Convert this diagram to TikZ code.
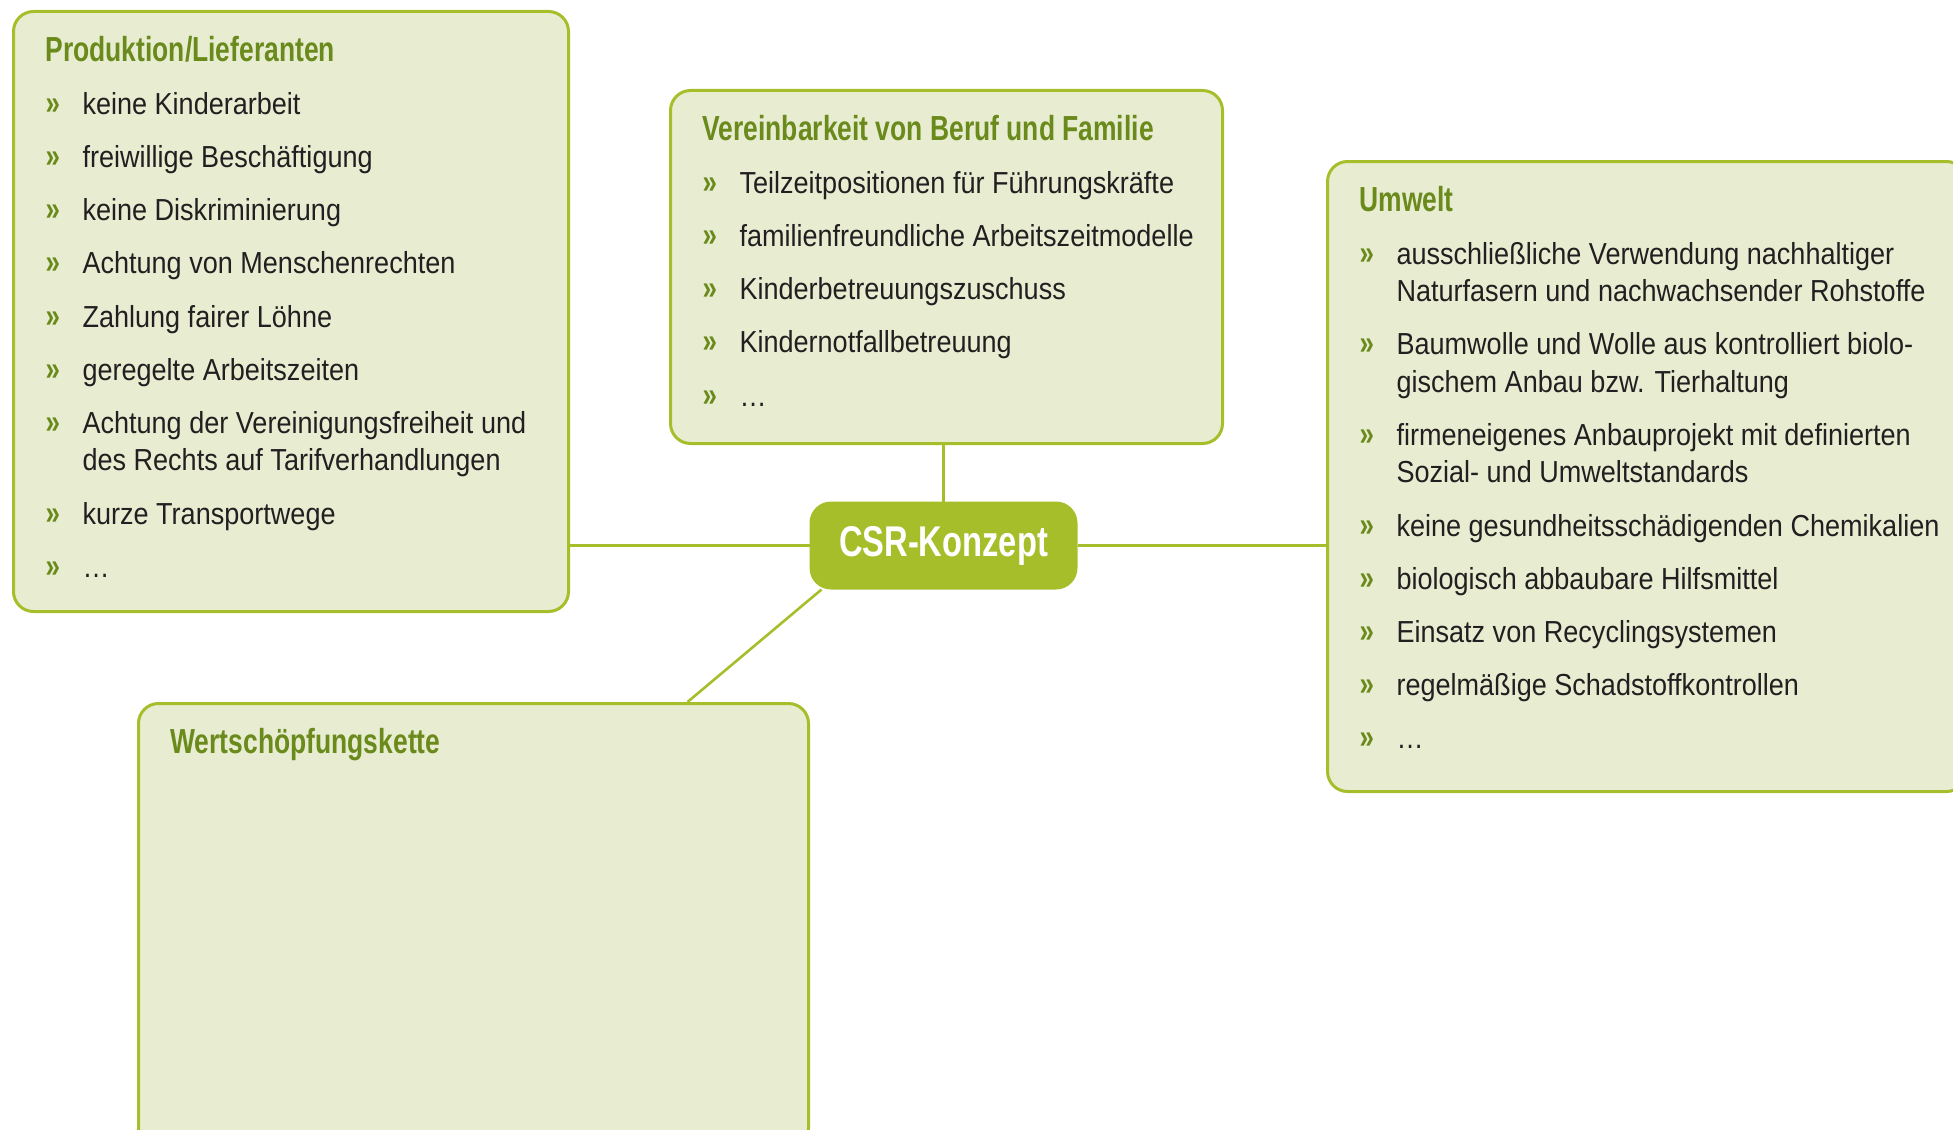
\documentclass[tikz,border=0pt]{standalone}
\usepackage{fontspec}
\setmainfont{Liberation Sans}[FakeStretch=0.89]
\newfontfamily\headfont{Liberation Sans}[FakeStretch=0.76]
\usepackage{xcolor}
\usepackage{tikz}

\definecolor{csrline}{HTML}{A7BE2B}
\definecolor{csrfill}{HTML}{E8EDD2}
\definecolor{csrtitle}{HTML}{6B8A1C}
\definecolor{csrtext}{HTML}{231F20}

% title and list lines inside the boxes
\newcommand\ttl[1]{\noindent\rule{0pt}{24.8pt}{\headfont\bfseries\fontsize{17.4}{20}\selectfont\color{csrtitle}#1}\par}
\newcommand\itm[1]{\vspace{7.9pt}\noindent\makebox[18.5pt][l]{\headfont\bfseries\fontsize{17}{20}\selectfont\color{csrtitle}»}\mbox{#1}\par}
\newcommand\cnt[1]{\noindent\hspace*{18.5pt}\mbox{#1}\par}

\begin{document}
\begin{tikzpicture}[x=0.5pt, y=-0.5pt,
  box/.style={draw=csrline, fill=csrfill, line width=1.5pt, rounded corners=10pt,
    inner xsep=16pt, inner ysep=0pt, anchor=north west, text=csrtext,
    font=\fontsize{15.2}{18.7}\selectfont},
  hub/.style={draw=csrline, fill=csrline, line width=1.5pt, rounded corners=10pt,
    minimum width=132.5pt, minimum height=42.5pt, text=white,
    font=\headfont\bfseries\fontsize{21.5}{24}\selectfont},
  link/.style={draw=csrline, line width=1.3pt}
]
\useasboundingbox (0,0) rectangle (1953,1129);
\clip (0,0) rectangle (1953,1129);

\node[box] (prod) at (12,10) {\parbox[c][300pt][t]{245.5pt}{%
  \ttl{Produktion/Lieferanten}
  \itm{keine Kinderarbeit}
  \itm{freiwillige Beschäftigung}
  \itm{keine Diskriminierung}
  \itm{Achtung von Menschenrechten}
  \itm{Zahlung fairer Löhne}
  \itm{geregelte Arbeitszeiten}
  \itm{Achtung der Vereinigungsfreiheit und}
  \cnt{des Rechts auf Tarifverhandlungen}
  \itm{kurze Transportwege}
  \itm{…}}};

\node[box] (fam) at (669,89) {\parbox[c][176.5pt][t]{244pt}{%
  \ttl{Vereinbarkeit von Beruf und Familie}
  \itm{Teilzeitpositionen für Führungskräfte}
  \itm{familienfreundliche Arbeitszeitmodelle}
  \itm{Kinderbetreuungszuschuss}
  \itm{Kindernotfallbetreuung}
  \itm{…}}};

\node[box] (umw) at (1326,160) {\parbox[c][315pt][t]{287.5pt}{%
  \ttl{Umwelt}
  \itm{ausschließliche Verwendung nachhaltiger}
  \cnt{Naturfasern und nachwachsender Rohstoffe}
  \itm{Baumwolle und Wolle aus kontrolliert biolo-}
  \cnt{gischem Anbau bzw. Tierhaltung}
  \itm{firmeneigenes Anbauprojekt mit definierten}
  \cnt{Sozial- und Umweltstandards}
  \itm{keine gesundheitsschädigenden Chemikalien}
  \itm{biologisch abbaubare Hilfsmittel}
  \itm{Einsatz von Recyclingsystemen}
  \itm{regelmäßige Schadstoffkontrollen}
  \itm{…}}};

\node[box] (wert) at (137,702) {\parbox[c][222pt][t]{303pt}{%
  \ttl{Wertschöpfungskette}}};

\node[hub] (csr) at (943.5,545.5) {CSR-Konzept};

% connectors
\draw[link] (csr.west) -- (csr.west -| prod.east);
\draw[link] (csr.east) -- (csr.east -| umw.west);
\draw[link] (csr.north) -- (csr.north |- fam.south);
\draw[link] ([xshift=6pt]csr.south west) -- ([xshift=107pt]wert.north);
\end{tikzpicture}
\end{document}
